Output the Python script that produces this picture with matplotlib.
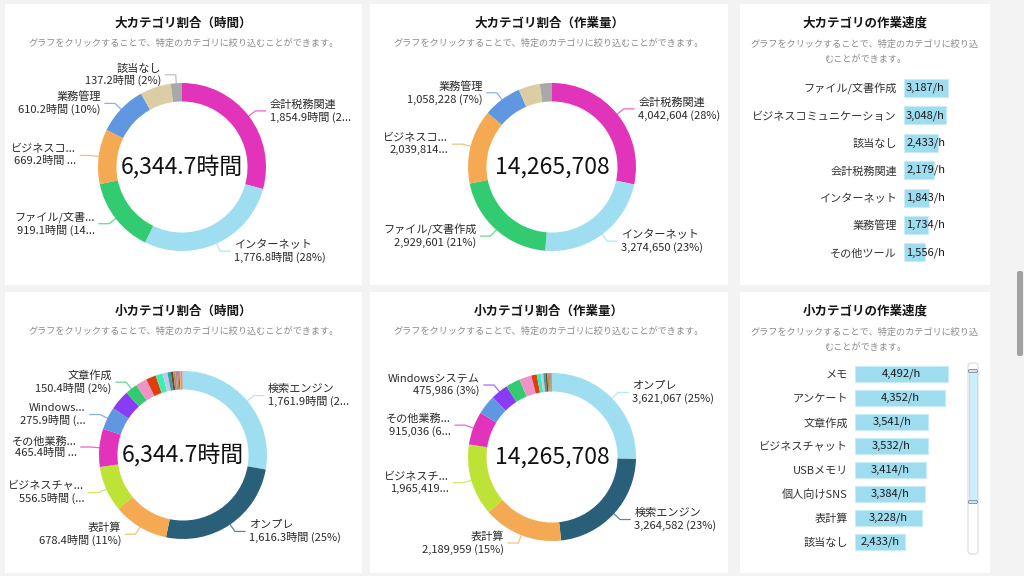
import numpy as np
import matplotlib
matplotlib.use("Agg")
import matplotlib.pyplot as plt
from matplotlib.patches import Rectangle, FancyBboxPatch

plt.rcParams['font.family'] = ['Noto Sans CJK JP', 'DejaVu Sans']

W, H = 1024, 576

# ---- 大カテゴリ ----
big_names = ["会計税務関連", "インターネット", "ファイル/文書作成", "ビジネスコミュニケーション",
             "業務管理", "その他ツール", "該当なし"]
big_hours = [1854.9, 1776.8, 919.1, 669.2, 610.2, 377.3, 137.2]
big_work = [4042604, 3274650, 2929601, 2039814, 1058228, 587011, 333800]
big_colors = ["#e234bb", "#9fdef1", "#33cb71", "#f5a953", "#5f97e0", "#dccda4", "#a8a8a8"]
big_hours_labels = ["会計税務関連\n1,854.9時間 (2...", "インターネット\n1,776.8時間 (28%)",
                    "ファイル/文書...\n919.1時間 (14...", "ビジネスコ...\n669.2時間 ...",
                    "業務管理\n610.2時間 (10%)", None, "該当なし\n137.2時間 (2%)"]
big_work_labels = ["会計税務関連\n4,042,604 (28%)", "インターネット\n3,274,650 (23%)",
                   "ファイル/文書作成\n2,929,601 (21%)", "ビジネスコ...\n2,039,814...",
                   "業務管理\n1,058,228 (7%)", None, None]

big_speed_names = ["ファイル/文書作成", "ビジネスコミュニケーション", "該当なし", "会計税務関連",
                   "インターネット", "業務管理", "その他ツール"]
big_speed = [3187, 3048, 2433, 2179, 1843, 1734, 1556]

# ---- 小カテゴリ ----
small_hour_names = ["検索エンジン", "オンプレ", "表計算", "ビジネスチャット", "その他業務ツール",
                    "Windowsシステム", "メール", "文章作成", "該当なし", "ブラウザ", "画像編集",
                    "PDF閲覧", "クラウドストレージ", "Web会議", "地図", "翻訳", "辞書",
                    "カレンダー", "電卓", "印刷", "スキャン", "圧縮", "FTP", "その他"]
small_hours = [1761.9, 1616.3, 678.4, 556.5, 465.4, 275.9, 245.9, 150.4, 137.2, 122.0, 86.0,
               60.0, 40.0, 30.0, 25.0, 20.0, 18.0, 14.0, 10.0, 9.0, 8.0, 7.0, 4.8, 3.0]
small_hours_labels = ["検索エンジン\n1,761.9時間 (2...", "オンプレ\n1,616.3時間 (25%)",
                      "表計算\n678.4時間 (11%)", "ビジネスチャ...\n556.5時間 (...",
                      "その他業務...\n465.4時間 ...", "Windows...\n275.9時間 (...", None,
                      "文章作成\n150.4時間 (2%)"]

small_work_names = ["オンプレ", "検索エンジン", "表計算", "ビジネスチャット", "その他業務ツール",
                    "文章作成", "Windowsシステム", "メール", "該当なし", "ブラウザ", "画像編集",
                    "PDF閲覧", "クラウドストレージ", "Web会議", "地図", "翻訳", "辞書",
                    "カレンダー", "その他"]
small_work = [3621067, 3264582, 2189959, 1965419, 915036, 532566, 475986, 400000, 333808,
              150000, 110000, 70000, 60000, 50000, 40000, 30000, 25000, 20000, 12285]
small_work_labels = ["オンプレ\n3,621,067 (25%)", "検索エンジン\n3,264,582 (23%)",
                     "表計算\n2,189,959 (15%)", "ビジネスチ...\n1,965,419...",
                     "その他業務...\n915,036 (6...", None, "Windowsシステム\n475,986 (3%)"]

small_colors = ["#9fdef1", "#2a5f79", "#f5a953", "#bce335", "#e234bb", "#5f97e0", "#8a3cf5",
                "#33cb71", "#ee93c8", "#e03d0b", "#39efb2", "#c6c6ea", "#2aa7a6", "#8d3a2b",
                "#9c9a4c", "#c07aa0", "#b58a5a", "#666688", "#e0b040", "#f08070", "#7a8aa0",
                "#d06030", "#a0c0e0", "#b0b0b0"]

small_speed_names = ["メモ", "アンケート", "文章作成", "ビジネスチャット", "USBメモリ",
                     "個人向けSNS", "表計算", "該当なし"]
small_speed = [4492, 4352, 3541, 3532, 3414, 3384, 3228, 2433]

subtitle = "グラフをクリックすることで、特定のカテゴリに絞り込むことができます。"
subtitle_wrap = "グラフをクリックすることで、特定のカテゴリに絞り込\nむことができます。"


def px_rect(x0, y0, x1, y1):
    return [x0 / W, 1 - y1 / H, (x1 - x0) / W, (y1 - y0) / H]


def donut(cx, cy, R, values, colors, labels, center_text):
    ax = fig.add_axes(px_rect(cx - R, cy - R, cx + R, cy + R))
    wedges, _ = ax.pie(values, colors=colors[:len(values)], startangle=90, counterclock=False,
                       radius=1, wedgeprops=dict(width=0.22, linewidth=0))
    ax.set_xlim(-1, 1)
    ax.set_ylim(-1, 1)
    ax.axis('off')
    ax.text(0, 0, center_text, ha='center', va='center', fontsize=16.5, color='#111111')
    for w, lab, col in zip(wedges, labels, colors):
        if lab is None:
            continue
        a = np.deg2rad((w.theta1 + w.theta2) / 2)
        x0, y0 = np.cos(a), np.sin(a)
        ex, ey = 1.1 * x0, 1.1 * y0
        side = 1 if x0 >= 0 else -1
        hx = ex + side * 0.12
        ax.plot([x0 * 1.0, ex, hx], [y0 * 1.0, ey, ey], color=col, lw=0.9, alpha=0.75,
                clip_on=False)
        ax.text(hx + side * 0.05, ey, lab, ha='left' if side > 0 else 'right', va='center',
                fontsize=8, color='#2a2a2a', linespacing=1.2,
                multialignment='left' if side > 0 else 'right')
    return ax


def speed_bars(x0, y_first, step, names, values, xscale, bar_h, centered):
    n = len(values)
    top = y_first - step / 2
    bot = top + step * n
    width_px = 110
    ax = fig.add_axes(px_rect(x0, top, x0 + width_px, bot))
    pos = np.arange(n)
    ax.barh(pos, values, height=bar_h, color='#9edcf0', edgecolor='#c9ecf7', linewidth=0.8)
    ax.set_xlim(0, width_px / xscale)
    ax.set_ylim(n - 0.5, -0.5)
    ax.set_yticks(pos)
    ax.set_yticklabels(names, fontsize=8, color='#333333')
    ax.tick_params(axis='y', length=0, pad=5)
    ax.set_xticks([])
    for s in ax.spines.values():
        s.set_visible(False)
    ax.patch.set_visible(False)
    for i, v in enumerate(values):
        txt = f"{v:,}/h"
        if centered:
            ax.text(v / 2, i, txt, ha='center', va='center', fontsize=8, color='#1a1a1a')
        else:
            ax.annotate(txt, xy=(0, i), xytext=(1.5, 0), textcoords='offset points',
                        ha='left', va='center', fontsize=8, color='#1a1a1a')
    return ax


fig = plt.figure(figsize=(W / 100, H / 100), dpi=100)
fig.patch.set_facecolor('#f3f3f3')

bg = fig.add_axes([0, 0, 1, 1])
bg.set_xlim(0, W)
bg.set_ylim(H, 0)
bg.axis('off')

panels = [(5, 4, 362, 285), (370, 4, 728, 285), (740, 4, 990, 285),
          (5, 292, 362, 573), (370, 292, 728, 573), (740, 292, 990, 573)]
for (a, b, c, d) in panels:
    bg.add_patch(Rectangle((a, b), c - a, d - b, facecolor='white', edgecolor='none'))

titles = ["大カテゴリ割合（時間）", "大カテゴリ割合（作業量）", "大カテゴリの作業速度",
          "小カテゴリ割合（時間）", "小カテゴリ割合（作業量）", "小カテゴリの作業速度"]
for (a, b, c, d), t in zip(panels, titles):
    xc = (a + c) / 2
    bg.text(xc, b + 19, t, ha='center', va='center', fontsize=9, fontweight='bold', color='#161616')
    if c - a > 300:
        bg.text(xc, b + 39, subtitle, ha='center', va='center', fontsize=6.6, color='#8a8a8a')
    else:
        bg.text(xc, b + 48, subtitle_wrap, ha='center', va='center', fontsize=6.6,
                color='#8a8a8a', linespacing=1.9)

# scrollbar in the bottom-right panel
bg.add_patch(FancyBboxPatch((968, 363), 10, 191, boxstyle="round,pad=0,rounding_size=3",
                            facecolor='white', edgecolor='#dcdcdc', linewidth=0.8))
bg.add_patch(Rectangle((969, 371), 8, 131, facecolor='#cdeefb', edgecolor='#b8dcea', linewidth=0.6))
for yy in (371, 502):
    bg.add_patch(FancyBboxPatch((968.5, yy - 1.5), 9, 3, boxstyle="round,pad=0,rounding_size=1.2",
                                facecolor='#d6e4ea', edgecolor='#6f8f9c', linewidth=0.6))
# page scrollbar
bg.add_patch(FancyBboxPatch((1017, 271), 6, 85, boxstyle="round,pad=0,rounding_size=2",
                            facecolor='#a2a2a2', edgecolor='none'))

donut(182, 167, 84, big_hours, big_colors, big_hours_labels, f"{sum(big_hours):,.1f}時間")
donut(552, 167, 84, big_work, big_colors, big_work_labels, f"{sum(big_work):,}")
donut(183, 455, 84, small_hours, small_colors, small_hours_labels + [None] * 20,
      f"{sum(small_hours):,.1f}時間")
donut(552, 457, 84, small_work, small_colors, small_work_labels + [None] * 20, f"{sum(small_work):,}")

speed_bars(904, 88, 27.4, big_speed_names, big_speed, 44 / 3187, 0.66, False)
speed_bars(855, 374, 24.0, small_speed_names, small_speed, 93 / 4492, 0.7, True)

fig.savefig("out.png", dpi=100, facecolor=fig.get_facecolor())
